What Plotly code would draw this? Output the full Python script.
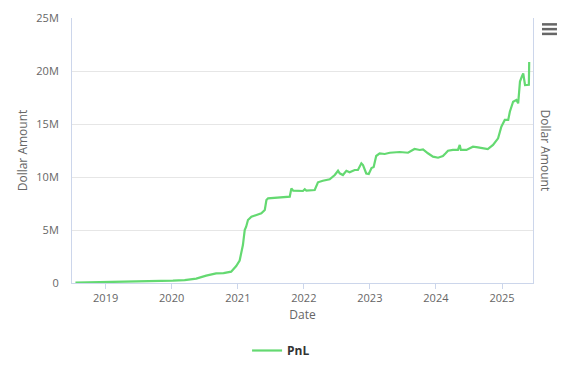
import plotly.graph_objects as go

# ---- data ----
dates = [
    "2018-07-18", "2019-01-01", "2019-07-07", "2020-01-08", "2020-03-13", "2020-05-16",
    "2020-07-10", "2020-09-03", "2020-10-14", "2020-11-25", "2020-12-23", "2021-01-11",
    "2021-01-29", "2021-02-08", "2021-02-16", "2021-02-26", "2021-03-17", "2021-04-13",
    "2021-05-11", "2021-05-30", "2021-06-08", "2021-06-17", "2021-08-11", "2021-10-15",
    "2021-10-24", "2021-11-03", "2021-12-27", "2022-01-06", "2022-01-15", "2022-03-02",
    "2022-03-20", "2022-04-16", "2022-05-24", "2022-06-21", "2022-07-09", "2022-07-18",
    "2022-08-05", "2022-08-24", "2022-09-11", "2022-10-09", "2022-10-27", "2022-11-15",
    "2022-11-24", "2022-12-12", "2022-12-26", "2023-01-10", "2023-01-22", "2023-02-05",
    "2023-02-24", "2023-03-24", "2023-04-21", "2023-05-19", "2023-06-15", "2023-07-31",
    "2023-09-05", "2023-10-04", "2023-10-22", "2023-11-18", "2023-12-16", "2024-01-13",
    "2024-02-09", "2024-02-24", "2024-03-08", "2024-04-04", "2024-05-02", "2024-05-12",
    "2024-05-18", "2024-06-18", "2024-07-24", "2024-08-21", "2024-09-18", "2024-10-14",
    "2024-11-12", "2024-12-10", "2024-12-28", "2025-01-16", "2025-02-04", "2025-02-13",
    "2025-03-03", "2025-03-21", "2025-03-31", "2025-04-06", "2025-04-10", "2025-04-20",
    "2025-04-28", "2025-05-08", "2025-05-26", "2025-05-29", "2025-05-31",
]
pnl_millions = [
    0.03, 0.09, 0.12, 0.22, 0.28, 0.42,
    0.69, 0.90, 0.94, 1.07, 1.60, 2.12,
    3.58, 5.00, 5.31, 5.94, 6.25, 6.42,
    6.58, 6.89, 7.83, 7.99, 8.08, 8.14,
    8.93, 8.71, 8.68, 8.84, 8.71, 8.77,
    9.50, 9.65, 9.78, 10.19, 10.59, 10.35,
    10.19, 10.59, 10.44, 10.66, 10.66, 11.29,
    11.13, 10.33, 10.28, 10.85, 10.94, 11.98,
    12.22, 12.17, 12.29, 12.36, 12.36, 12.29,
    12.64, 12.55, 12.61, 12.24, 11.92, 11.82,
    11.98, 12.24, 12.48, 12.55, 12.55, 13.02,
    12.55, 12.55, 12.86, 12.80, 12.71, 12.64,
    13.02, 13.65, 14.75, 15.38, 15.38, 16.16,
    17.10, 17.26, 16.95, 18.05, 19.00, 19.46,
    19.78, 18.68, 18.68, 18.70, 20.85,
]
pnl = [v * 1e6 for v in pnl_millions]

series_name = "PnL"
y_tick_values = [0, 5e6, 10e6, 15e6, 20e6, 25e6]
y_tick_labels = ["0", "5M", "10M", "15M", "20M", "25M"]
x_tick_values = ["2019-01-01", "2020-01-01", "2021-01-01", "2022-01-01",
                 "2023-01-01", "2024-01-01", "2025-01-01"]
x_tick_labels = ["2019", "2020", "2021", "2022", "2023", "2024", "2025"]
x_range = ["2018-06-29", "2025-06-21"]
y_range = [0, 25e6]

FONT = "Open Sans"
LINE_GREEN = "#64d971"
AXIS_LINE = "#ccd6eb"
GRID = "#e6e6e6"
LABEL = "#666666"

fig = go.Figure()
fig.add_trace(go.Scatter(
    x=dates, y=pnl, mode="lines", name=series_name,
    line=dict(color=LINE_GREEN, width=2.2),
    showlegend=True,
))

fig.update_layout(
    width=575, height=366,
    margin=dict(l=72, r=42, t=18, b=83, autoexpand=False),
    paper_bgcolor="white", plot_bgcolor="white",
    font=dict(family=FONT, size=11, color=LABEL),
    showlegend=True,
    legend=dict(
        orientation="h", x=0.4535, xanchor="center", y=-0.2, yanchor="top",
        font=dict(family=FONT, size=12, color="#333333", weight="bold"),
    ),
    xaxis=dict(
        type="date", range=x_range, automargin=False,
        tickmode="array", tickvals=x_tick_values, ticktext=x_tick_labels,
        showgrid=False, showline=True, linecolor=AXIS_LINE, linewidth=1,
        ticks="outside", ticklen=5, tickcolor=AXIS_LINE,
        tickfont=dict(size=11, color=LABEL),
        title=dict(text="Date", font=dict(size=12, color=LABEL), standoff=6),
        zeroline=False,
    ),
    yaxis=dict(
        range=y_range, automargin=False,
        tickmode="array", tickvals=y_tick_values, ticktext=y_tick_labels,
        showgrid=True, gridcolor=GRID, gridwidth=1,
        showline=True, linecolor=AXIS_LINE, linewidth=1, mirror=True,
        ticks="outside", ticklen=10, tickcolor="rgba(0,0,0,0)",
        tickfont=dict(size=11, color=LABEL),
        title=dict(text="Dollar Amount", font=dict(size=12, color=LABEL), standoff=6),
        zeroline=False,
    ),
    annotations=[
        dict(text="Dollar Amount", xref="paper", yref="paper",
             x=1.028, y=0.5, xanchor="center", yanchor="middle",
             textangle=90, showarrow=False,
             font=dict(family=FONT, size=12, color=LABEL)),
    ],
    shapes=[
        dict(type="line", xref="paper", yref="paper",
             x0=1.0195, x1=1.052, y0=yy, y1=yy,
             line=dict(color="#666666", width=2.5))
        for yy in (0.976, 0.958, 0.940)
    ],
)

fig.write_html(
    "out.html",
    config={"displayModeBar": False},
    post_script="document.body.style.margin='0';document.body.style.padding='0';",
)
